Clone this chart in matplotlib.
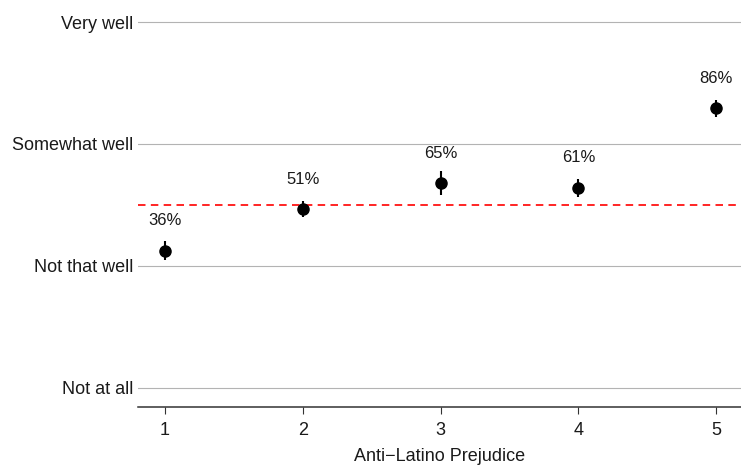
import matplotlib.pyplot as plt

plt.rcParams['font.family'] = ['Liberation Sans', 'DejaVu Sans']

prejudice = [1, 2, 3, 4, 5]
estimate = [2.125, 2.467, 2.678, 2.642, 3.293]
err = [0.08, 0.065, 0.1, 0.075, 0.07]
pct_labels = ['36%', '51%', '65%', '61%', '86%']
baseline = 2.5
y_levels = [1, 2, 3, 4]
y_names = ['Not at all', 'Not that well', 'Somewhat well', 'Very well']

fig = plt.figure(figsize=(7.41, 4.66), dpi=100)
ax = fig.add_axes([0.1862, 0.1266, 0.8138, 0.867])

for y in y_levels:
    ax.axhline(y, color='#b3b3b3', lw=0.8, zorder=0)

ax.axhline(baseline, color='#ff0000', lw=1.2, linestyle=(0, (4.5, 3.2)), zorder=1)

ax.errorbar(prejudice, estimate, yerr=err, fmt='o', color='black',
            markersize=8, elinewidth=1.5, capsize=0, zorder=3)

for x, y, lab in zip(prejudice, estimate, pct_labels):
    ax.text(x, y + 0.245, lab, ha='center', va='center', fontsize=12,
            color='#1a1a1a')

ax.set_xlim(0.804, 5.18)
ax.set_ylim(0.844, 4.156)
ax.set_xticks(prejudice)
ax.set_yticks(y_levels)
ax.set_yticklabels(y_names)
ax.tick_params(axis='y', length=0, pad=3.6, labelsize=13, labelcolor='#1a1a1a')
ax.tick_params(axis='x', length=5, width=0.8, color='#333333', pad=5.5,
               labelsize=13, labelcolor='#1a1a1a')
ax.set_xlabel('Anti\u2212Latino Prejudice', fontsize=13, labelpad=7,
              color='#1a1a1a')

for s in ['top', 'right', 'left']:
    ax.spines[s].set_visible(False)
ax.spines['bottom'].set_color('#333333')
ax.spines['bottom'].set_linewidth(1.1)

fig.savefig('out.png', dpi=100)
